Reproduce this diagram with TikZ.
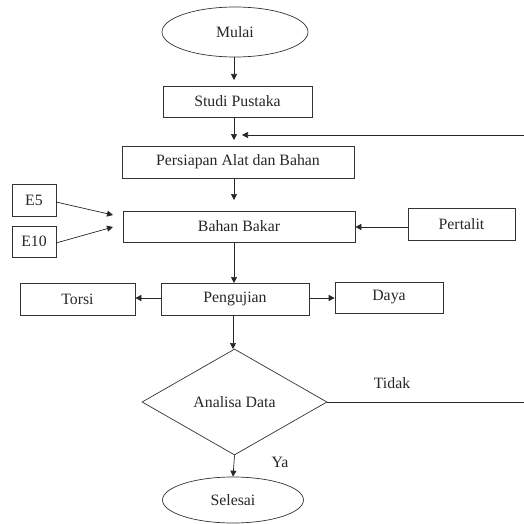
\documentclass[tikz,border=0pt]{standalone}
\usepackage{fontspec}
\setmainfont{Liberation Serif}
\usetikzlibrary{shapes.geometric,arrows.meta}
\begin{document}
\begin{tikzpicture}[x=1pt,y=-1pt,
  every node/.style={font=\fontsize{15.8}{18}\selectfont, text=black!85},
  box/.style={draw=black!80, line width=0.7pt, rectangle, inner sep=0pt},
  term/.style={draw=black!80, line width=0.7pt, ellipse, inner sep=0pt},
  dec/.style={draw=black!80, line width=0.7pt, diamond, inner sep=0pt, aspect=1.75},
  conn/.style={draw=black!85, line width=0.7pt, -{Triangle[length=6pt,width=6pt]}},
  lbl/.style={inner sep=0pt}]
\useasboundingbox (0,0) rectangle (524,524);
\node[term, minimum width=146pt, minimum height=50pt] (mulai) at (235,32) {Mulai};
\node[box, minimum width=149pt, minimum height=31pt] (studi) at (237.5,101.5) {Studi Pustaka};
\node[box, minimum width=232pt, minimum height=32pt] (persiapan) at (238,162) {Persiapan Alat dan Bahan};
\node[box, minimum width=232pt, minimum height=31pt] (bahan) at (239,226.5) {Bahan Bakar};
\node[box, minimum width=44pt, minimum height=32pt] (e5) at (34,200) {E5};
\node[box, minimum width=44pt, minimum height=31pt] (e10) at (34,241.5) {E10};
\node[box, minimum width=107pt, minimum height=32pt] (pertalit) at (461.5,224) {Pertalit};
\node[box, minimum width=148pt, minimum height=32pt] (pengujian) at (235,299) {Pengujian};
\node[box, minimum width=115pt, minimum height=32pt] (torsi) at (77.5,299) {Torsi};
\node[box, minimum width=108pt, minimum height=31pt] (daya) at (389,297.5) {Daya};
\node[dec, minimum width=185pt, minimum height=106pt] (analisa) at (234.5,402) {Analisa Data};
\node[term, minimum width=141pt, minimum height=46pt] (selesai) at (233,500) {Selesai};
\node[lbl] (tidak) at (392,383) {Tidak};
\node[lbl] (ya) at (280,462) {Ya};

\coordinate (j1) at (234,57);
\coordinate (j2) at (234,80);
\draw[conn] (j1) -- (j2);
\draw[conn] (234,117) -- (234,140);
\draw[conn] (234,178) -- (234,200);
\draw[conn] (234,242) -- (234,283);
\draw[conn] (233,315) -- (233,349);
\draw[conn] (analisa.south) -- (selesai.north);
\coordinate (ein5) at (113,215);
\coordinate (ein10) at (113,227);
\draw[conn] (56,202) -- (ein5);
\draw[conn] (56,243) -- (ein10);
\draw[conn] (pertalit.west |- 0,227) -- (bahan.east |- 0,227);
\draw[conn] (pengujian.west |- 0,298) -- (torsi.east |- 0,298);
\draw[conn] (pengujian.east |- 0,298) -- (daya.west |- 0,298);
\coordinate (r1) at (530,402);
\coordinate (r2) at (530,135);
\coordinate (fb) at (242,135);
\draw[conn] (analisa.east) -- (r1) -- (r2) -- (fb);
\end{tikzpicture}
\end{document}
